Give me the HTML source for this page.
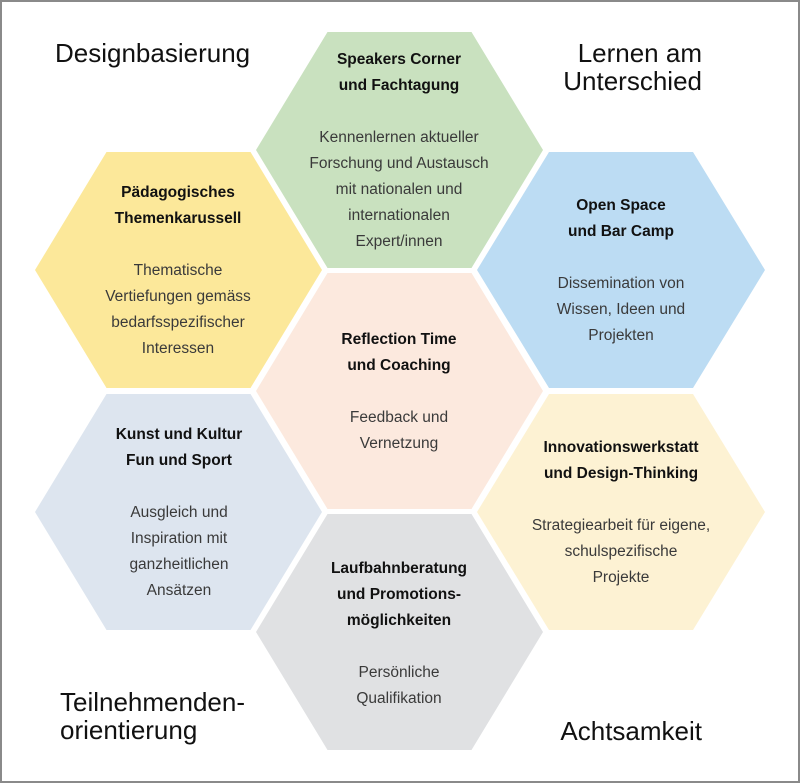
<!DOCTYPE html>
<html><head><meta charset="utf-8"><style>
html,body{margin:0;padding:0;background:#fff}
#c{position:relative;width:800px;height:783px;overflow:hidden;font-family:"Liberation Sans",sans-serif}
#fr{position:absolute;left:0;top:0;width:796px;height:779px;border:2px solid #8a8a8a}
svg{position:absolute;left:0;top:0}
.t{position:absolute;text-align:center;line-height:26px;font-size:15.5px;color:#3a3a3a;width:260px}
.t b{color:#111;display:block}
.t .g{display:block;height:26px}
.k{position:absolute;font-size:26px;color:#111;line-height:28px;font-weight:300}
</style></head><body><div id="c">
<div id="fr"></div>
<svg width="800" height="783">
<g>
<polygon points="327.5,32 471.5,32 543,150 471.5,268 327.5,268 256,150" fill="#c9e1bf"/>
<polygon points="327.5,273 471.5,273 543,391 471.5,509 327.5,509 256,391" fill="#fce9de"/>
<polygon points="327.5,514 471.5,514 543,632 471.5,750 327.5,750 256,632" fill="#e0e1e3"/>
<polygon points="106.5,152 250.5,152 322,270 250.5,388 106.5,388 35,270" fill="#fce89a"/>
<polygon points="106.5,394 250.5,394 322,512 250.5,630 106.5,630 35,512" fill="#dde5ef"/>
<polygon points="549,152 693,152 765,270 693,388 549,388 477,270" fill="#bcdcf3"/>
<polygon points="549,394 693,394 765,512 693,630 549,630 477,512" fill="#fdf2d3"/>
</g></svg>
<div class="t" style="left:269px;top:47px"><b>Speakers Corner</b><b>und Fachtagung</b><span class="g"></span>Kennenlernen aktueller<br>Forschung und Austausch<br>mit nationalen und<br>internationalen<br>Expert/innen</div>
<div class="t" style="left:48px;top:180px"><b>Pädagogisches</b><b>Themenkarussell</b><span class="g"></span>Thematische<br>Vertiefungen gemäss<br>bedarfsspezifischer<br>Interessen</div>
<div class="t" style="left:491px;top:193px"><b>Open Space</b><b>und Bar Camp</b><span class="g"></span>Dissemination von<br>Wissen, Ideen und<br>Projekten</div>
<div class="t" style="left:269px;top:327px"><b>Reflection Time</b><b>und Coaching</b><span class="g"></span>Feedback und<br>Vernetzung</div>
<div class="t" style="left:49px;top:422px"><b>Kunst und Kultur</b><b>Fun und Sport</b><span class="g"></span>Ausgleich und<br>Inspiration mit<br>ganzheitlichen<br>Ansätzen</div>
<div class="t" style="left:491px;top:435px"><b>Innovationswerkstatt</b><b>und Design-Thinking</b><span class="g"></span>Strategiearbeit für eigene,<br>schulspezifische<br>Projekte</div>
<div class="t" style="left:269px;top:556px"><b>Laufbahnberatung</b><b>und Promotions-</b><b>möglichkeiten</b><span class="g"></span>Persönliche<br>Qualifikation</div>
<div class="k" style="left:55px;top:39px">Designbasierung</div>
<div class="k" style="left:540px;top:39px;width:162px;text-align:right">Lernen am<br>Unterschied</div>
<div class="k" style="left:60px;top:688px">Teilnehmenden-<br>orientierung</div>
<div class="k" style="left:540px;top:717px;width:162px;text-align:right">Achtsamkeit</div>
</div></body></html>
